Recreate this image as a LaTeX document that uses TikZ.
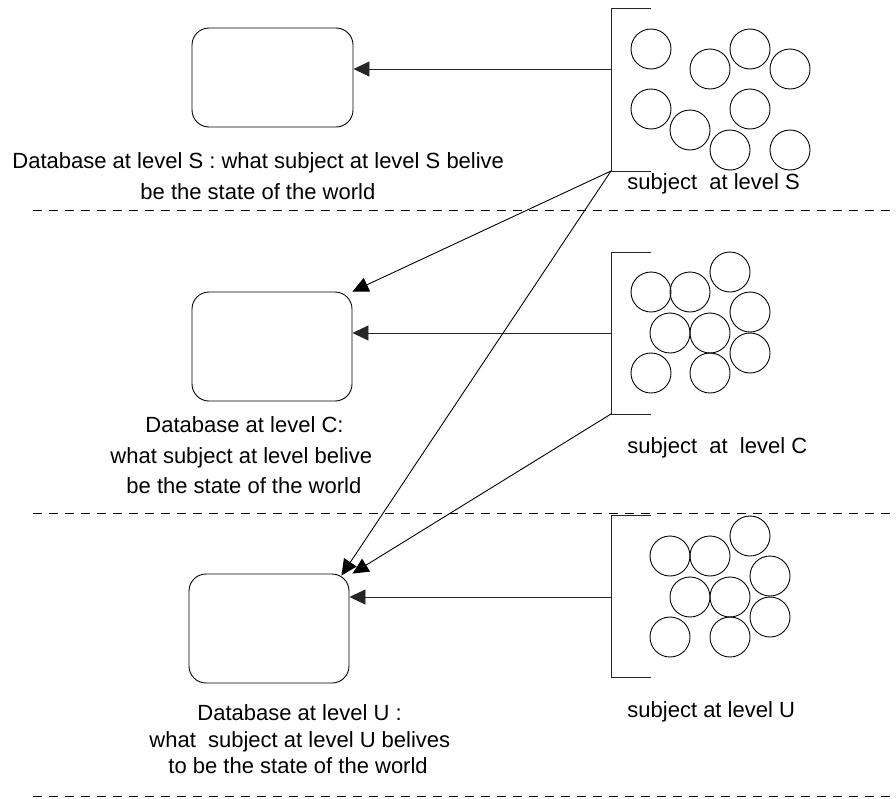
\documentclass[tikz,border=0pt]{standalone}
\usepackage{fontspec}
\setmainfont{Liberation Sans}
\usetikzlibrary{arrows.meta,calc}

\begin{document}
\begin{tikzpicture}[x=1pt,y=-1pt,
  font=\fontsize{22}{26}\selectfont,
  line width=0.9pt,
  dbbox/.style={draw,rounded corners=17pt,minimum width=160pt,inner sep=0pt},
  subj/.style={draw,circle,minimum size=40pt,inner sep=0pt},
  lbl/.style={anchor=base west,inner sep=0pt},
  sep/.style={dash pattern=on 9pt off 7pt,line width=0.8pt},
  feed/.style={-{Triangle[length=16pt,width=15pt]}},
  bracket/.style={draw=black!85}]

\useasboundingbox (0,0) rectangle (896,798);

% level separators
\draw[sep] (33,210) -- (896,210);
\draw[sep] (33,513) -- (896,513);
\draw[sep] (33,796) -- (896,796);

% databases
\node[dbbox,minimum width=161pt,minimum height=99pt]  (dbS) at (272.5,77.5) {};
\node[dbbox,minimum height=109pt] (dbC) at (272,346.5) {};
\node[dbbox,minimum height=109pt] (dbU) at (269,628.5) {};

% subject groups: brackets
\coordinate (bSt) at (611,8);   \coordinate (bSb) at (611,171); \coordinate (tS) at (611,69);
\coordinate (bCt) at (611,252); \coordinate (bCb) at (611,414); \coordinate (tC) at (611,333);
\coordinate (bUt) at (611,515); \coordinate (bUb) at (611,677); \coordinate (tU) at (611,597);
\foreach \t/\b in {bSt/bSb,bCt/bCb,bUt/bUb}
  \draw[bracket] ($(\t)+(40,0)$) -- (\t) -- (\b) -- ($(\b)+(40,0)$);

% subjects at level S
\foreach \x/\y [count=\i] in {651/49,710/69,750/49,790/69,651/109,690/130,750/109,730/150,790/150}
  \node[subj] (s\i) at (\x,\y) {};
% subjects at level C
\foreach \x/\y [count=\i] in {651/292,690/292,730/272,750/312,670/333,710/333,750/353,651/373,710/373}
  \node[subj] (c\i) at (\x,\y) {};
% subjects at level U
\foreach \x/\y [count=\i] in {670/556,710/556,750/536,770/576,690/597,730/597,770/617,670/637,730/637}
  \node[subj] (u\i) at (\x,\y) {};

% information flow
\draw[feed,draw=black!85] (tS) -- (tS -| dbS.east);
\draw[feed,draw=black!85] (tC) -- (tC -| dbC.east);
\draw[feed,draw=black!85] (tU) -- (tU -| dbU.east);
\draw[feed] (bSb) -- (dbC.north east);
\draw[feed] (bSb) -- ($(dbU.north east)+(-8,2)$);
\draw[feed] (bCb) -- ($(dbU.north east)+(3,0)$);

% labels
\node[lbl] (lS1) at (12,168) {Database at level S : what subject at level S belive};
\node[lbl] (lS2) at (140,199) {be the state of the world};
\node[lbl] (lC1) at (145,432) {Database at level C:};
\node[lbl] (lC2) at (110,463) {what subject at level belive};
\node[lbl] (lC3) at (126,493) {be the state of the world};
\node[lbl] (lU1) at (197,720) {Database at level U :};
\node[lbl] (lU2) at (149,747) {what\ \ subject at level U belives};
\node[lbl] (lU3) at (168,773) {to be the state of the world};
\node[lbl] (gS) at (627,189) {subject\ \ at level S};
\node[lbl] (gC) at (627,453) {subject\ \ at\ \ level C};
\node[lbl] (gU) at (627,717) {subject at level U};
\end{tikzpicture}
\end{document}
